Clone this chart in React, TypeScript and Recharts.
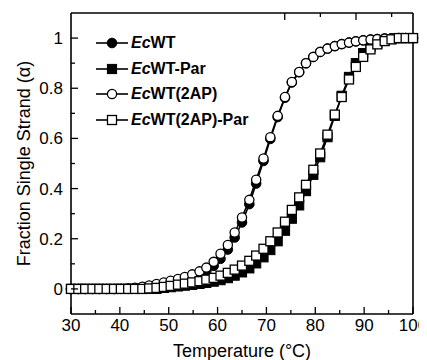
import React from 'react';
import { LineChart, Line, XAxis, YAxis, Legend, Label } from 'recharts';

const temperatures = [30.0, 31.5, 32.9, 34.4, 35.8, 37.3, 38.8, 40.2, 41.7, 43.1, 44.6, 46.0, 47.5, 49.0, 50.4, 51.9, 53.3, 54.8, 56.3, 57.7, 59.2, 60.6, 62.1, 63.5, 65.0, 66.5, 67.9, 69.4, 70.8, 72.3, 73.8, 75.2, 76.7, 78.1, 79.6, 81.0, 82.5, 84.0, 85.4, 86.9, 88.3, 89.8, 91.3, 92.7, 94.2, 95.6, 97.1, 98.5, 100.0];

const ecWT = [0, 0, 0, 0, 0, 0, 0, 0, 0, 0.003, 0.006, 0.01, 0.015, 0.02, 0.026, 0.032, 0.039, 0.047, 0.057, 0.071, 0.092, 0.12, 0.157, 0.205, 0.265, 0.338, 0.42, 0.51, 0.598, 0.685, 0.762, 0.823, 0.864, 0.9, 0.925, 0.945, 0.958, 0.968, 0.976, 0.982, 0.987, 0.991, 0.994, 0.996, 0.998, 0.999, 1.0, 1.0, 1.0];

const ecWTPar = [0, 0, 0, 0, 0, 0, 0, 0, 0, 0, 0, 0, 0, 0.004, 0.007, 0.01, 0.013, 0.016, 0.02, 0.024, 0.029, 0.035, 0.043, 0.053, 0.066, 0.082, 0.102, 0.126, 0.155, 0.19, 0.232, 0.28, 0.333, 0.39, 0.455, 0.525, 0.605, 0.69, 0.77, 0.845, 0.9, 0.94, 0.965, 0.98, 0.99, 0.996, 1.0, 1.0, 1.0];

const ecWT2AP = [0, 0, 0, 0, 0, 0, 0, 0.001, 0.003, 0.005, 0.009, 0.014, 0.02, 0.026, 0.033, 0.04, 0.048, 0.058, 0.07, 0.085, 0.108, 0.14, 0.175, 0.225, 0.285, 0.355, 0.435, 0.52, 0.605, 0.69, 0.765, 0.825, 0.865, 0.9, 0.925, 0.945, 0.958, 0.968, 0.976, 0.982, 0.987, 0.991, 0.994, 0.996, 0.998, 0.999, 1.0, 1.0, 1.0];

const ecWT2APPar = [0, 0, 0, 0, 0, 0, 0, 0, 0, 0, 0, 0.002, 0.004, 0.008, 0.012, 0.017, 0.021, 0.026, 0.031, 0.037, 0.044, 0.053, 0.064, 0.077, 0.093, 0.112, 0.133, 0.16, 0.19, 0.225, 0.268, 0.315, 0.365, 0.415, 0.475, 0.54, 0.615, 0.695, 0.765, 0.835, 0.885, 0.925, 0.955, 0.975, 0.988, 0.995, 1.0, 1.0, 1.0];

const xTicks = [30, 35, 40, 45, 50, 55, 60, 65, 70, 75, 80, 85, 90, 95, 100];
const yTicks = [0, 0.1, 0.2, 0.3, 0.4, 0.5, 0.6, 0.7, 0.8, 0.9, 1];
const seriesNames = ['EcWT', 'EcWT-Par', 'EcWT(2AP)', 'EcWT(2AP)-Par'];

const data = temperatures.map((t, i) => ({
  t,
  ecWT: ecWT[i],
  ecWTPar: ecWTPar[i],
  ecWT2AP: ecWT2AP[i],
  ecWT2APPar: ecWT2APPar[i],
}));

const FONT = '"Liberation Sans", Arial, Helvetica, sans-serif';
const MAJ = 7;
const MIN = 4;
const TW = 1.3;

const isMajorX = (v: number) => Math.round(v) % 10 === 0;
const isMajorY = (v: number) => Math.round(v * 10) % 2 === 0;
const fmtY = (v: number) => (v === 0 ? '0' : v === 1 ? '1' : v.toFixed(1));

function BottomTick(props: any) {
  const { x, y, payload } = props;
  const v = payload.value;
  const major = isMajorX(v);
  return (
    <g>
      <line x1={x} x2={x} y1={y} y2={y - (major ? MAJ : MIN)} stroke="#000" strokeWidth={TW} />
      {major && (
        <text x={x} y={y + 17} textAnchor="middle" fontSize={17} fontFamily={FONT} fill="#000">
          {v}
        </text>
      )}
    </g>
  );
}

function TopTick(props: any) {
  const { x, y, payload } = props;
  const major = isMajorX(payload.value);
  return <line x1={x} x2={x} y1={y} y2={y + (major ? MAJ : MIN)} stroke="#000" strokeWidth={TW} />;
}

function LeftTick(props: any) {
  const { x, y, payload } = props;
  const v = payload.value;
  const major = isMajorY(v);
  return (
    <g>
      <line x1={x} x2={x + (major ? MAJ : MIN)} y1={y} y2={y} stroke="#000" strokeWidth={TW} />
      {major && (
        <text x={x - 8} y={y + 6} textAnchor="end" fontSize={17} fontFamily={FONT} fill="#000">
          {fmtY(v)}
        </text>
      )}
    </g>
  );
}

function RightTick(props: any) {
  const { x, y, payload } = props;
  const major = isMajorY(payload.value);
  return <line x1={x} x2={x - (major ? MAJ : MIN)} y1={y} y2={y} stroke="#000" strokeWidth={TW} />;
}

const markerFor = (kind: string, cx: number, cy: number, key?: string) => {
  if (kind === 'fc') return <circle key={key} cx={cx} cy={cy} r={4.8} fill="#000" stroke="#000" strokeWidth={1} />;
  if (kind === 'oc') return <circle key={key} cx={cx} cy={cy} r={4.6} fill="#fff" stroke="#000" strokeWidth={1.3} />;
  if (kind === 'fs') return <rect key={key} x={cx - 4.6} y={cy - 4.6} width={9.2} height={9.2} fill="#000" stroke="#000" strokeWidth={1} />;
  return <rect key={key} x={cx - 4.5} y={cy - 4.5} width={9} height={9} fill="#fff" stroke="#000" strokeWidth={1.3} />;
};

const makeDot = (kind: string) => (p: any) => {
  if (p.cx == null || p.cy == null) return <g key={`${kind}-${p.index}`} />;
  return markerFor(kind, p.cx, p.cy, `${kind}-${p.index}`);
};

const kinds = ['fc', 'fs', 'oc', 'os'];

function LegendBox() {
  return (
    <div style={{ fontFamily: FONT, fontSize: 16, fontWeight: 'bold', color: '#000', lineHeight: '16px' }}>
      {seriesNames.map((name, i) => (
        <div key={name} style={{ display: 'flex', alignItems: 'center', height: 25.5 }}>
          <svg width={32} height={14} style={{ display: 'block' }}>
            <line x1={0} x2={32} y1={7} y2={7} stroke="#000" strokeWidth={1.6} />
            {markerFor(kinds[i], 16, 7)}
          </svg>
          <span style={{ marginLeft: 3, whiteSpace: 'nowrap' }}>
            <i>{name.slice(0, 2)}</i>
            {name.slice(2)}
          </span>
        </div>
      ))}
    </div>
  );
}

export default function App() {
  return (
    <div style={{ width: 419, height: 352, background: '#fff' }}>
      <LineChart width={419} height={352} data={data} margin={{ top: 4, right: 13, bottom: 0, left: 0 }}>
        <XAxis
          dataKey="t"
          type="number"
          domain={[30, 100]}
          ticks={xTicks}
          interval={0}
          height={46}
          tickSize={0}
          tickMargin={0}
          tickLine={false}
          tick={<BottomTick />}
          axisLine={{ stroke: '#000', strokeWidth: 1.6 }}
        >
          <Label
            content={(p: any) => {
              const vb = p.viewBox;
              return (
                <text x={vb.x + vb.width / 2} y={vb.y + 42.5} textAnchor="middle" fontSize={18} fontFamily={FONT} fill="#000">
                  Temperature (°C)
                </text>
              );
            }}
          />
        </XAxis>
        <XAxis
          xAxisId="top"
          orientation="top"
          type="number"
          domain={[30, 100]}
          ticks={xTicks}
          interval={0}
          height={1}
          tickSize={0}
          tickMargin={0}
          tickLine={false}
          tick={<TopTick />}
          axisLine={{ stroke: '#000', strokeWidth: 1.6 }}
        />
        <YAxis
          type="number"
          domain={[-0.1, 1.1]}
          ticks={yTicks}
          interval={0}
          width={63}
          tickSize={0}
          tickMargin={0}
          tickLine={false}
          tick={<LeftTick />}
          axisLine={{ stroke: '#000', strokeWidth: 1.6 }}
        >
          <Label
            content={(p: any) => {
              const vb = p.viewBox;
              const cx = vb.x + 21.5;
              const cy = vb.y + vb.height / 2;
              return (
                <text x={cx} y={cy} transform={`rotate(-90, ${cx}, ${cy})`} textAnchor="middle" fontSize={18} fontFamily={FONT} fill="#000">
                  Fraction Single Strand (α)
                </text>
              );
            }}
          />
        </YAxis>
        <YAxis
          yAxisId="right"
          orientation="right"
          type="number"
          domain={[-0.1, 1.1]}
          ticks={yTicks}
          interval={0}
          width={1}
          tickSize={0}
          tickMargin={0}
          tickLine={false}
          tick={<RightTick />}
          axisLine={{ stroke: '#000', strokeWidth: 1.6 }}
        />
        <Legend
          layout="vertical"
          align="center"
          verticalAlign="middle"
          wrapperStyle={{ position: 'absolute', left: 88, top: 22.5, width: 'auto', height: 'auto' }}
          content={() => <LegendBox />}
        />
        <Line dataKey="ecWT" name={seriesNames[0]} type="linear" stroke="#000" strokeWidth={1.6} dot={makeDot('fc')} activeDot={false} isAnimationActive={false} />
        <Line dataKey="ecWTPar" name={seriesNames[1]} type="linear" stroke="#000" strokeWidth={1.6} dot={makeDot('fs')} activeDot={false} isAnimationActive={false} />
        <Line dataKey="ecWT2AP" name={seriesNames[2]} type="linear" stroke="#000" strokeWidth={1.6} dot={makeDot('oc')} activeDot={false} isAnimationActive={false} />
        <Line dataKey="ecWT2APPar" name={seriesNames[3]} type="linear" stroke="#000" strokeWidth={1.6} dot={makeDot('os')} activeDot={false} isAnimationActive={false} />
      </LineChart>
    </div>
  );
}
